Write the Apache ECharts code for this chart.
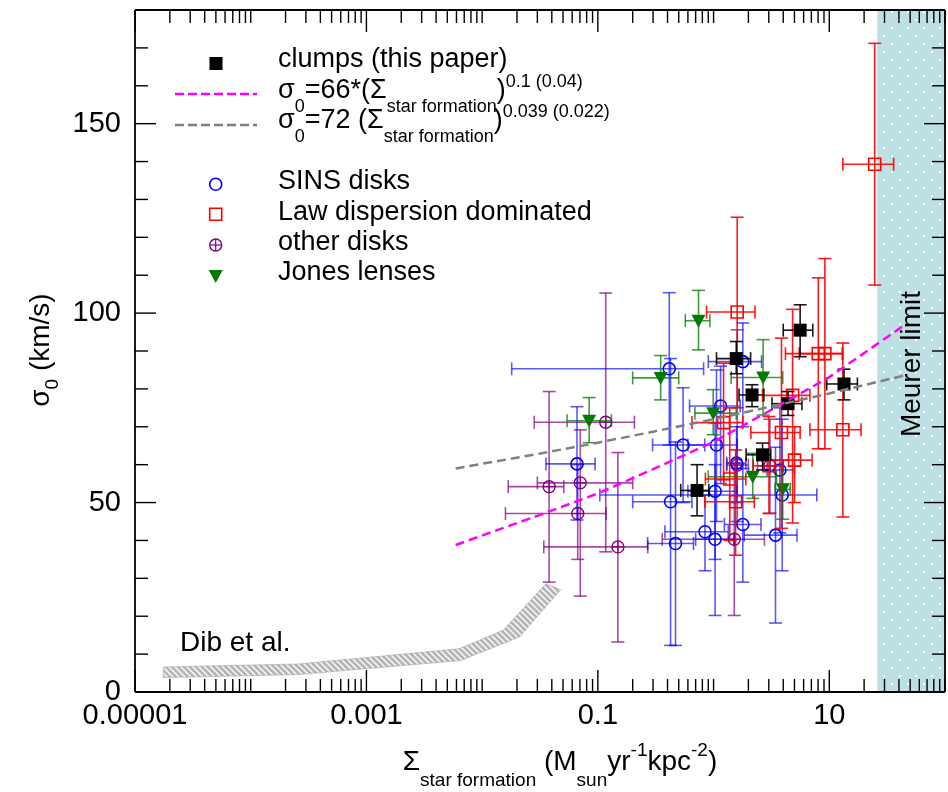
<!DOCTYPE html>
<html><head><meta charset="utf-8">
<script src="https://cdn.jsdelivr.net/npm/echarts@6/dist/echarts.min.js"></script>
<style>html,body{margin:0;padding:0;background:#fff}#c{width:948px;height:792px}</style>
</head><body><div id="c"></div>
<script>
const FONT = '"Liberation Sans", Arial, Helvetica, sans-serif';

// ---- axis ranges & tick labels ----
const xMin = 1e-5, xMax = 100, yMin = 0, yMax = 180;
const xTickLabelValues = [1e-5, 1e-3, 0.1, 10];
const xTickLabels = ['0.00001', '0.001', '0.1', '10'];
const yTickLabelValues = [0, 50, 100, 150];
const yTickLabels = ['0', '50', '100', '150'];

// ---- data: [x, y, xLow, xHigh, yLow, yHigh] ----
const clumps = [
  [0.72, 53.2, 0.52, 0.91, 46.5, 60.0],
  [1.57, 88.0, 1.06, 2.09, 84.0, 92.5],
  [2.15, 78.4, 1.66, 2.72, 75.3, 81.1],
  [5.6, 95.5, 4.0, 7.2, 88.5, 102.2],
  [4.4, 76.1, 3.2, 5.8, 73.0, 79.3],
  [13.4, 81.3, 9.5, 17.5, 77.1, 85.2],
  [2.65, 62.6, 1.91, 3.12, 58.6, 65.7]
];
const sinsDisks = [
  [0.066, 60.2, 0.0356, 0.0946, 45.4, 75.3],
  [0.545, 65.2, 0.297, 0.84, 50.0, 80.3],
  [1.06, 65.2, 0.6, 1.6, 45.0, 85.0],
  [0.425, 50.2, 0.2, 0.65, 12.3, 88.0],
  [1.03, 53.0, 0.6, 1.6, 35.0, 71.0],
  [0.843, 42.3, 0.38, 1.34, 32.0, 52.0],
  [1.03, 40.3, 0.7, 1.5, 20.2, 60.0],
  [0.469, 39.2, 0.269, 0.671, 12.3, 66.0],
  [1.79, 44.2, 1.24, 2.57, 29.0, 59.0],
  [3.43, 41.4, 1.84, 5.26, 18.2, 64.6],
  [3.74, 58.6, 2.9, 5.0, 42.0, 75.0],
  [3.92, 52.0, 0.104, 7.8, 32.0, 72.0],
  [1.15, 75.5, 0.62, 1.7, 55.0, 86.0],
  [0.414, 85.3, 0.018, 0.82, 65.2, 105.4],
  [1.79, 87.2, 0.9, 2.6, 70.0, 97.4],
  [1.58, 60.4, 1.3, 1.9, 50.0, 70.0]
];
const lawDispersion = [
  [1.60, 100.3, 0.87, 2.28, 75.0, 125.3],
  [8.03, 89.3, 4.18, 13.0, 64.2, 109.3],
  [9.16, 89.3, 5.5, 13.0, 64.2, 114.4],
  [4.82, 78.3, 2.65, 6.8, 44.6, 101.0],
  [13.1, 69.2, 6.8, 18.8, 46.2, 92.1],
  [1.22, 71.1, 0.65, 1.79, 56.0, 86.8],
  [3.86, 68.5, 2.1, 5.6, 43.2, 93.4],
  [5.01, 61.2, 2.92, 7.1, 50.0, 70.0],
  [3.01, 59.7, 2.2, 4.0, 47.1, 72.7],
  [1.55, 50.2, 0.84, 2.25, 36.1, 63.9],
  [1.38, 56.2, 0.85, 1.9, 40.0, 75.0],
  [24.7, 139.3, 13.1, 36.0, 107.4, 171.2]
];
const otherDisks = [
  [0.117, 71.2, 0.0282, 0.207, 37.0, 105.3],
  [0.0379, 54.2, 0.0168, 0.0508, 29.0, 79.3],
  [0.0705, 55.2, 0.03, 0.2, 25.3, 69.2],
  [0.067, 47.1, 0.0159, 0.118, 35.0, 60.0],
  [0.149, 38.3, 0.0341, 0.27, 13.2, 63.2],
  [1.6, 59.9, 1.3, 2.0, 45.0, 95.6],
  [1.51, 40.3, 0.36, 2.75, 20.2, 60.4],
  [3.07, 59.7, 2.4, 4.0, 47.2, 72.0]
];
const jonesLenses = [
  [0.741, 98.0, 0.57, 0.93, 90.3, 106.0],
  [0.349, 82.9, 0.2, 0.5, 77.1, 88.8],
  [0.0841, 71.6, 0.0542, 0.131, 65.8, 77.7],
  [2.68, 83.0, 1.42, 3.96, 73.1, 93.0],
  [0.993, 73.6, 0.69, 1.57, 67.9, 79.8],
  [2.18, 56.8, 0.9, 3.5, 51.1, 63.0],
  [3.96, 53.5, 3.4, 4.6, 45.6, 61.2]
];

// fit lines
const fitX   = [0.0059, 0.03, 0.1, 0.3, 1, 3, 10, 47];
const fit66Y = [38.8, 46.5, 52.4, 58.8, 66.0, 74.1, 83.1, 97.3];
const fit72Y = [59.0, 62.8, 65.8, 68.7, 72.0, 75.2, 78.8, 83.7];

// Dib et al. band outline
const dibX = [1.76e-5, 2.6e-4, 0.0063, 0.0152, 0.0356, 0.0477, 0.021, 0.0065, 2.6e-4, 1.76e-5];
const dibY = [6.6, 7.4, 11.4, 16.3, 28.6, 27.0, 14.5, 8.3, 4.6, 3.8];

// Meurer limit
const meurerLimit = 26;

// ---- patterns ----
function dotPattern() {
  const c = document.createElement('canvas'); c.width = 16; c.height = 16;
  const g = c.getContext('2d');
  g.fillStyle = '#bde0e4'; g.fillRect(0, 0, 16, 16);
  g.fillStyle = 'rgba(255,255,255,0.9)';
  g.fillRect(3, 3, 2, 2); g.fillRect(11, 11, 2, 2);
  return {image: c, repeat: 'repeat'};
}
function hatchPattern() {
  const c = document.createElement('canvas'); c.width = 6; c.height = 6;
  const g = c.getContext('2d');
  g.fillStyle = '#b4b4b4'; g.fillRect(0, 0, 6, 6);
  g.strokeStyle = '#f4f4f4'; g.lineWidth = 1.6;
  g.beginPath();
  g.moveTo(0, 0); g.lineTo(6, 6);
  g.moveTo(-3, 3); g.lineTo(3, 9);
  g.moveTo(3, -3); g.lineTo(9, 3);
  g.stroke();
  return {image: c, repeat: 'repeat'};
}

// ---- markers ----
const mk = {
  filledSquare: (x, y, c) => [{type: 'rect', shape: {x: x - 6.5, y: y - 6.5, width: 13, height: 13}, style: {fill: c}}],
  openCircle: (x, y, c) => [{type: 'circle', shape: {cx: x, cy: y, r: 6}, style: {fill: 'none', stroke: c, lineWidth: 1.6}}],
  openSquare: (x, y, c) => [{type: 'rect', shape: {x: x - 6, y: y - 6, width: 12, height: 12}, style: {fill: 'none', stroke: c, lineWidth: 1.6}}],
  circlePlus: (x, y, c) => [
    {type: 'circle', shape: {cx: x, cy: y, r: 6}, style: {fill: 'none', stroke: c, lineWidth: 1.4}},
    {type: 'line', shape: {x1: x - 6, y1: y, x2: x + 6, y2: y}, style: {stroke: c, lineWidth: 1.2}},
    {type: 'line', shape: {x1: x, y1: y - 6, x2: x, y2: y + 6}, style: {stroke: c, lineWidth: 1.2}}
  ],
  triDown: (x, y, c) => [{type: 'polygon', shape: {points: [[x - 7, y - 6], [x + 7, y - 6], [x, y + 7]]}, style: {fill: c}}]
};

function errorSeries(name, data, color, barOpacity, marker, z) {
  return {
    type: 'custom', name: name, data: data, z: z, silent: true,
    dimensions: ['x', 'y', 'xlo', 'xhi', 'ylo', 'yhi'],
    encode: {x: [0, 2, 3], y: [1, 4, 5]},
    renderItem: function (params, api) {
      const x = api.value(0), y = api.value(1);
      const c = api.coord([x, y]);
      const l = api.coord([api.value(2), y]), r = api.coord([api.value(3), y]);
      const b = api.coord([x, api.value(4)]), t = api.coord([x, api.value(5)]);
      const cap = 6.5;
      const st = {stroke: color, lineWidth: 1.6, opacity: barOpacity};
      const L = (x1, y1, x2, y2) => ({type: 'line', shape: {x1, y1, x2, y2}, style: st});
      const kids = [
        L(l[0], c[1], r[0], c[1]),
        L(l[0], c[1] - cap, l[0], c[1] + cap),
        L(r[0], c[1] - cap, r[0], c[1] + cap),
        L(c[0], b[1], c[0], t[1]),
        L(c[0] - cap, b[1], c[0] + cap, b[1]),
        L(c[0] - cap, t[1], c[0] + cap, t[1])
      ];
      return {type: 'group', children: kids.concat(marker(c[0], c[1], color))};
    }
  };
}

// ---- tick values (axis decoration) ----
const xTicks = [];
for (let e = -5; e <= 1; e++) {
  for (let m = 1; m <= 9; m++) xTicks.push({v: m * Math.pow(10, e), major: m === 1 && Math.abs(e) % 2 === 1});
}
xTicks.push({v: 100, major: false});
const yTicks = [];
for (let v = 0; v <= 180; v += 10) yTicks.push({v: v, major: v % 50 === 0});

const chart = echarts.init(document.getElementById('c'), null, {renderer: 'canvas'});

function fmtX(v) {
  const e = Math.round(Math.log10(v));
  const i = xTickLabelValues.findIndex(t => Math.round(Math.log10(t)) === e);
  return i >= 0 ? xTickLabels[i] : '';
}
function fmtY(v) {
  const i = yTickLabelValues.indexOf(Math.round(v));
  return i >= 0 ? yTickLabels[i] : '';
}

const legendMain = {fontSize: 27, fontFamily: FONT, fill: '#000', lineHeight: 50};
const legendSub = {fontSize: 18, fontFamily: FONT, fill: '#000', lineHeight: 20, verticalAlign: 'bottom'};
const legendSup = {fontSize: 18, fontFamily: FONT, fill: '#000', verticalAlign: 'top', padding: [7, 0, 0, 0]};

const option = {
  animation: false,
  backgroundColor: '#fff',
  grid: {left: 135, top: 10, width: 821, height: 682, show: false},
  xAxis: {
    type: 'log', logBase: 10, min: xMin, max: xMax,
    axisLine: {show: false}, axisTick: {show: false}, splitLine: {show: false},
    axisLabel: {formatter: fmtX, fontSize: 29, fontFamily: FONT, color: '#000', margin: 9}
  },
  yAxis: {
    type: 'value', min: yMin, max: yMax, interval: 50,
    axisLine: {show: false}, axisTick: {show: false}, splitLine: {show: false},
    axisLabel: {formatter: fmtY, fontSize: 29, fontFamily: FONT, color: '#000', margin: 14}
  },
  series: [
    {
      type: 'custom', z: 1, silent: true, data: [[meurerLimit, yMin]],
      renderItem: function (params, api) {
        const p0 = api.coord([meurerLimit, yMax]);
        const p1 = api.coord([xMax, yMin]);
        return {type: 'rect', shape: {x: p0[0], y: p0[1], width: p1[0] - p0[0], height: p1[1] - p0[1]}, style: {fill: dotPattern()}};
      }
    },
    {
      type: 'custom', z: 2, silent: true, data: [[dibX[0], dibY[0]]],
      renderItem: function (params, api) {
        const pts = dibX.map((x, i) => api.coord([x, dibY[i]]));
        return {type: 'polygon', shape: {points: pts}, style: {fill: hatchPattern(), stroke: 'rgba(160,160,160,0.7)', lineWidth: 0.8}};
      }
    },
    errorSeries('other disks', otherDisks, '#800080', 0.7, mk.circlePlus, 3),
    errorSeries('SINS disks', sinsDisks, '#0000ff', 0.65, mk.openCircle, 4),
    errorSeries('Jones lenses', jonesLenses, '#007a00', 0.75, mk.triDown, 5),
    errorSeries('Law dispersion dominated', lawDispersion, '#ff0000', 0.9, mk.openSquare, 6),
    errorSeries('clumps (this paper)', clumps, '#000000', 0.9, mk.filledSquare, 7),
    {
      type: 'line', z: 8, silent: true, showSymbol: false, symbol: 'none',
      data: fitX.map((x, i) => [x, fit66Y[i]]),
      lineStyle: {color: '#ff00ff', width: 2.5, type: [9, 5]}
    },
    {
      type: 'line', z: 8, silent: true, showSymbol: false, symbol: 'none',
      data: fitX.map((x, i) => [x, fit72Y[i]]),
      lineStyle: {color: '#808080', width: 2.5, type: [9, 5]}
    },
    {
      type: 'custom', z: 10, silent: true, data: [[1, 1]],
      renderItem: function (params, api) {
        const kids = [];
        const L = (x1, y1, x2, y2, w) => kids.push({type: 'line', shape: {x1, y1, x2, y2}, style: {stroke: '#000', lineWidth: w || 1.4}});
        const bl = api.coord([xMin, yMin]), tr = api.coord([xMax, yMax]);
        L(bl[0], bl[1], tr[0], bl[1], 1.8);
        L(bl[0], bl[1], bl[0], tr[1], 1.8);
        L(bl[0], tr[1], tr[0], tr[1], 1.8);
        L(tr[0], bl[1], tr[0], tr[1], 1.8);
        xTicks.forEach(t => {
          const p = api.coord([t.v, yMin]), q = api.coord([t.v, yMax]);
          const len = t.major ? 22 : 13;
          L(p[0], p[1], p[0], p[1] - len);
          L(q[0], q[1], q[0], q[1] + len);
        });
        yTicks.forEach(t => {
          const p = api.coord([xMin, t.v]), q = api.coord([xMax, t.v]);
          const len = t.major ? 21 : 13;
          L(p[0], p[1], p[0] + len, p[1]);
          L(q[0], q[1], q[0] - len, q[1]);
        });
        return {type: 'group', children: kids};
      }
    }
  ],
  graphic: [
    // legend symbols
    {type: 'rect', shape: {x: 209.5, y: 57, width: 13, height: 13}, style: {fill: '#000'}, z: 20},
    {type: 'line', shape: {x1: 175, y1: 94, x2: 257, y2: 94}, style: {stroke: '#ff00ff', lineWidth: 2.5, lineDash: [9, 4]}, z: 20},
    {type: 'line', shape: {x1: 175, y1: 125, x2: 257, y2: 125}, style: {stroke: '#808080', lineWidth: 2.5, lineDash: [9, 4]}, z: 20},
    {type: 'circle', shape: {cx: 215.7, cy: 184.3, r: 6}, style: {fill: 'none', stroke: '#0000ff', lineWidth: 1.6}, z: 20},
    {type: 'rect', shape: {x: 209.7, y: 208.3, width: 12, height: 12}, style: {fill: 'none', stroke: '#ff0000', lineWidth: 1.6}, z: 20},
    {type: 'circle', shape: {cx: 215.7, cy: 245, r: 6}, style: {fill: 'none', stroke: '#800080', lineWidth: 1.4}, z: 20},
    {type: 'line', shape: {x1: 209.7, y1: 245, x2: 221.7, y2: 245}, style: {stroke: '#800080', lineWidth: 1.2}, z: 20},
    {type: 'line', shape: {x1: 215.7, y1: 239, x2: 215.7, y2: 251}, style: {stroke: '#800080', lineWidth: 1.2}, z: 20},
    {type: 'polygon', shape: {points: [[208.7, 270], [222.7, 270], [215.7, 283]]}, style: {fill: '#007a00'}, z: 20},
    // legend texts
    {type: 'text', x: 278, y: 59.6, z: 20, style: {text: 'clumps (this paper)', fontSize: 27, fontFamily: FONT, fill: '#000', verticalAlign: 'middle'}},
    {type: 'text', x: 278, y: 65.6, z: 20, style: {
      text: '{m|σ}{s|0}{m|=66*(Σ}{s|star formation}{m|)}{p|0.1 (0.04)}',
      verticalAlign: 'top', rich: {m: legendMain, s: legendSub, p: legendSup}}},
    {type: 'text', x: 278, y: 95.6, z: 20, style: {
      text: '{m|σ}{s|0}{m|=72 (Σ}{s|star formation}{m|)}{p|0.039 (0.022)}',
      verticalAlign: 'top', rich: {m: legendMain, s: legendSub, p: legendSup}}},
    {type: 'text', x: 278, y: 181.6, z: 20, style: {text: 'SINS disks', fontSize: 27, fontFamily: FONT, fill: '#000', verticalAlign: 'middle'}},
    {type: 'text', x: 278, y: 212.3, z: 20, style: {text: 'Law dispersion dominated', fontSize: 27, fontFamily: FONT, fill: '#000', verticalAlign: 'middle'}},
    {type: 'text', x: 278, y: 242.3, z: 20, style: {text: 'other disks', fontSize: 27, fontFamily: FONT, fill: '#000', verticalAlign: 'middle'}},
    {type: 'text', x: 278, y: 272.3, z: 20, style: {text: 'Jones lenses', fontSize: 27, fontFamily: FONT, fill: '#000', verticalAlign: 'middle'}},
    // annotations
    {type: 'text', x: 180, y: 643.3, z: 20, style: {text: 'Dib et al.', fontSize: 28, fontFamily: FONT, fill: '#000', verticalAlign: 'middle'}},
    {type: 'text', x: 912.6, y: 364, rotation: Math.PI / 2, z: 20, style: {text: 'Meurer limit', fontSize: 28, fontFamily: FONT, fill: '#000', align: 'center', verticalAlign: 'middle'}},
    // axis titles
    {type: 'text', x: 560, y: 734.3, z: 20, style: {
      text: '{m|Σ}{s|star formation}{m| (M}{s|sun}{m|yr}{p|-1}{m|kpc}{p|-2}{m|)}',
      align: 'center', verticalAlign: 'top',
      rich: {
        m: {fontSize: 28, fontFamily: FONT, fill: '#000', lineHeight: 56},
        s: {fontSize: 19, fontFamily: FONT, fill: '#000', lineHeight: 16, verticalAlign: 'bottom'},
        p: {fontSize: 19, fontFamily: FONT, fill: '#000', verticalAlign: 'top', padding: [6.6, 0, 0, 0]}
      }}},
    {type: 'text', x: 41.3, y: 350, rotation: Math.PI / 2, z: 20, style: {
      text: '{m|σ}{s|0}{m| (km/s)}',
      align: 'center', verticalAlign: 'middle',
      rich: {
        m: {fontSize: 28, fontFamily: FONT, fill: '#000', lineHeight: 50},
        s: {fontSize: 19, fontFamily: FONT, fill: '#000', padding: [22, 0, 0, 0]}
      }}}
  ]
};
chart.setOption(option);
</script>
</body></html>
